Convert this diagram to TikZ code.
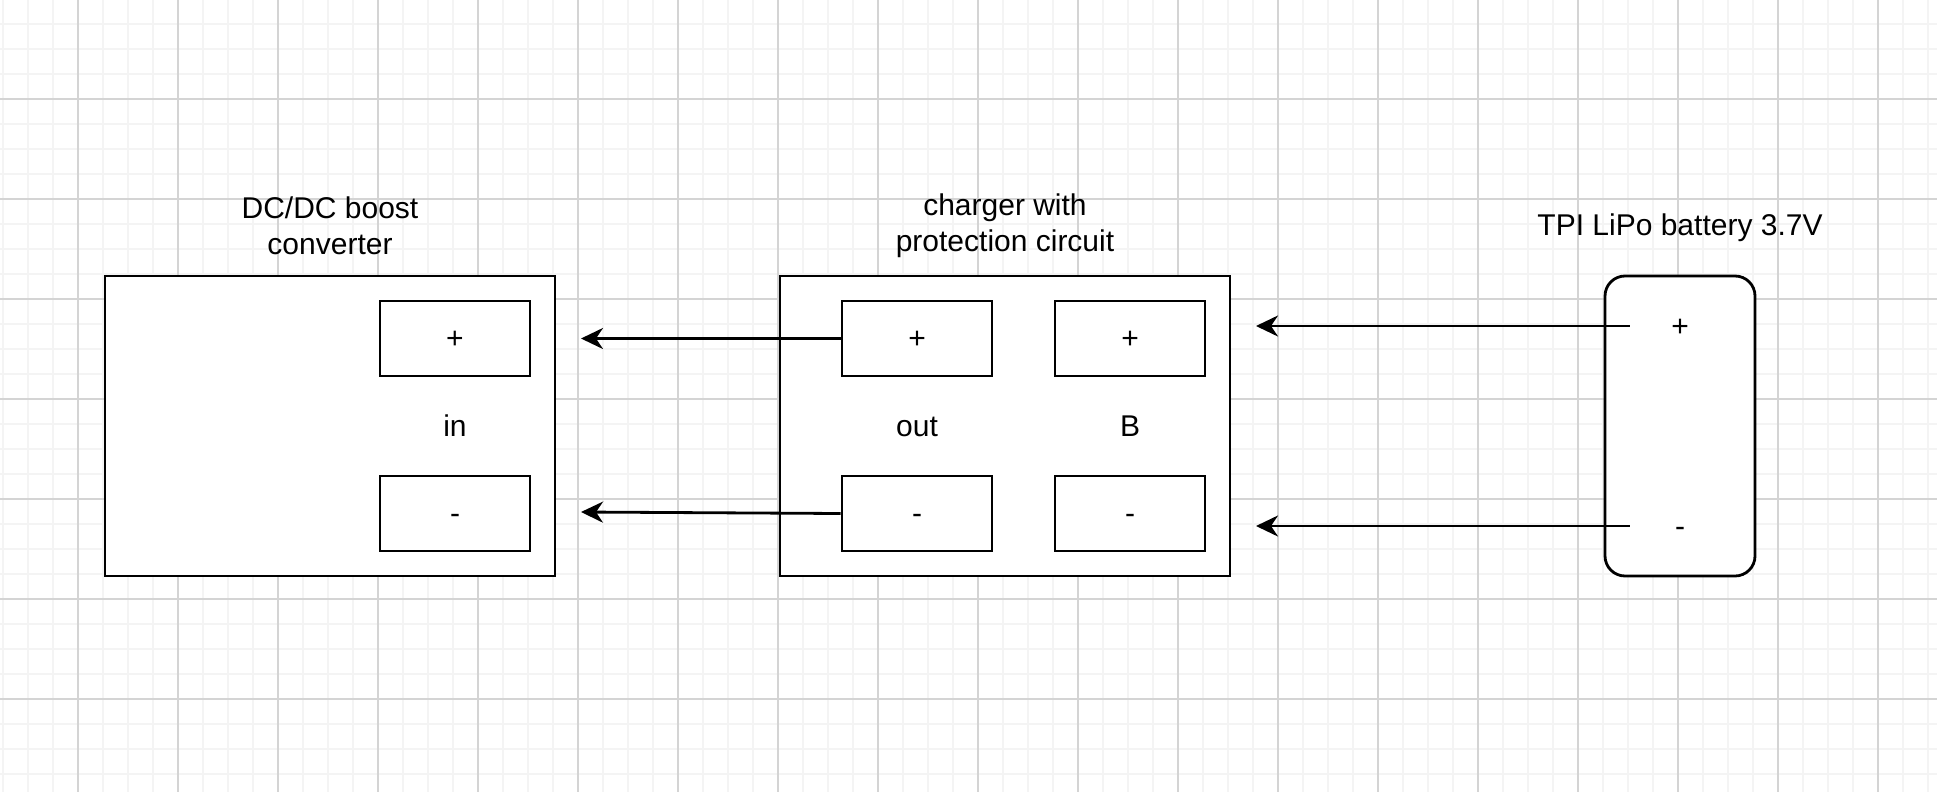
\documentclass[tikz,border=0pt]{standalone}
\usepackage{fontspec}
\setmainfont{Liberation Sans}
\usepackage{tikz}
\usetikzlibrary{positioning,arrows.meta}
\definecolor{gridminor}{RGB}{244,244,244}
\definecolor{gridmajor}{RGB}{212,212,212}
\tikzset{
  unit/.style={draw=black,fill=white,line width=2.8pt,minimum width=450pt,minimum height=300pt},
  term/.style={draw=black,fill=white,line width=2.8pt,minimum width=150pt,minimum height=75pt,font=\fontsize{30}{36}\selectfont,text height=27pt,text depth=6.3pt},
  cell/.style={draw=black,fill=white,line width=2.8pt,rounded corners=20pt,minimum width=150pt,minimum height=300pt},
  txt/.style={font=\fontsize{30}{36}\selectfont,align=center,inner sep=0pt},
  lbl/.style={txt,text height=27pt,text depth=6.3pt},
  pin/.style={lbl,minimum width=100pt},
  wire/.style={line width=2.8pt,-{Stealth[length=22pt,width=21pt,inset=7pt]}}
}
\begin{document}
\begin{tikzpicture}[x=1pt,y=-1pt]
        \useasboundingbox (0,0) rectangle (1937,792);
        \fill[white] (0,0) rectangle (1937,792);
        \foreach \gx in {3,28,...,1937} \draw[gridminor,line width=1.3pt] (\gx,0)--(\gx,792);
        \foreach \gy in {24,49,...,792} \draw[gridminor,line width=1.3pt] (0,\gy)--(1937,\gy);
        \foreach \gx in {78,178,...,1937} \draw[gridmajor,line width=1.3pt] (\gx,0)--(\gx,792);
        \foreach \gy in {99,199,...,792} \draw[gridmajor,line width=1.3pt] (0,\gy)--(1937,\gy);

        \node[unit] (dcdc) at (330,426) {};
        \node[txt] (dcdctitle) at (330,226) {DC/DC boost\\converter};
        \node[term] (inp) at (455,338.5) {+};\node[term] (inm) at (455,513.5) {-};
        \node[lbl] (inlbl) at (455,426) {in};

        \node[unit] (chg) at (1005,426) {};
        \node[txt] (chgtitle) at (1005,226) {charger with\\protection circuit};
        \node[term] (outp) at (917,338.5) {+};\node[term] (outm) at (917,513.5) {-};
        \node[lbl] (outlbl) at (917,426) {out};
        \node[term] (bp) at (1130,338.5) {+};\node[term] (bm) at (1130,513.5) {-};
        \node[lbl] (blbl) at (1130,426) {B};

        \node[cell] (bat) at (1680,426) {};
        \node[lbl] (battitle) at (1680,225) {TPI LiPo battery 3.7V};
        \node[pin] (batp) at (1680,326) {+};\node[pin] (batm) at (1680,526) {-};

        \coordinate (dcinp) at (581,338.5);\coordinate (dcinm) at (581,512);
        \coordinate (chgbp) at (1256,326);\coordinate (chgbm) at (1256,526);
        \draw[wire] (outp.west)--(dcinp);\draw[wire] (outm.west)--(dcinm);
        \draw[wire] (batp.west)--(chgbp);\draw[wire] (batm.west)--(chgbm);
      \end{tikzpicture}
\end{document}
